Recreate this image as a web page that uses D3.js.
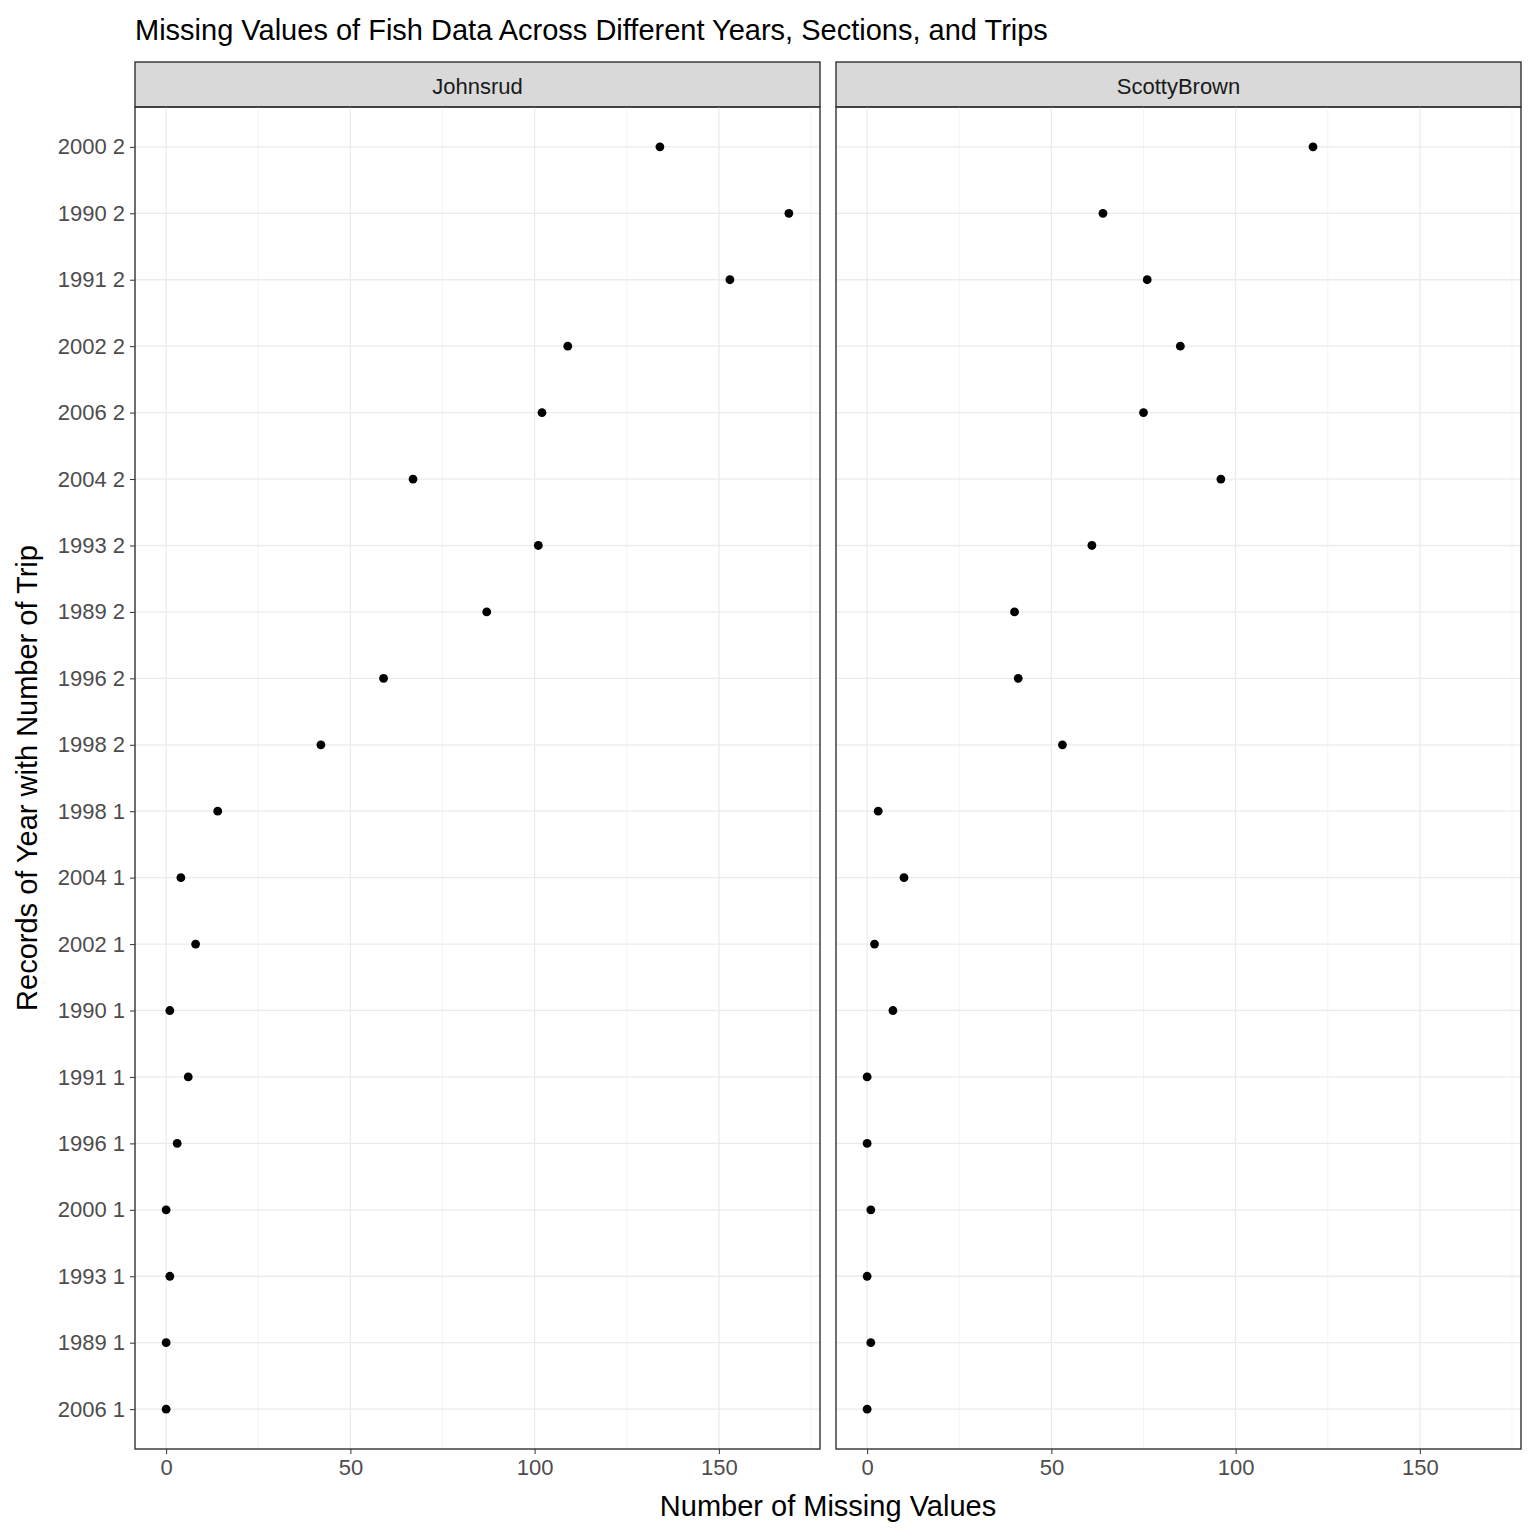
<!DOCTYPE html>
<html>
<head>
<meta charset="utf-8">
<script src="https://cdn.jsdelivr.net/npm/d3@7"></script>
<style>
  body { margin: 0; background: #fff; }
  text { font-family: Arial, "Liberation Sans", sans-serif; }
</style>
</head>
<body>
<svg id="chart" width="1536" height="1536"></svg>
<script>
// categories, top to bottom
var records = ["2000 2", "1990 2", "1991 2", "2002 2", "2006 2", "2004 2", "1993 2", "1989 2", "1996 2", "1998 2",
               "1998 1", "2004 1", "2002 1", "1990 1", "1991 1", "1996 1", "2000 1", "1993 1", "1989 1", "2006 1"];
var sections = ["Johnsrud", "ScottyBrown"];
var johnsrud = [134, 169, 153, 109, 102, 67, 101, 87, 59, 42, 14, 4, 8, 1, 6, 3, 0, 1, 0, 0];
var scottyBrown = [121, 64, 76, 85, 75, 96, 61, 40, 41, 53, 3, 10, 2, 7, 0, 0, 1, 0, 1, 0];
var xTicks = [0, 50, 100, 150];
var xMinor = [25, 75, 125, 175];

var svg = d3.select("#chart");
var panelTop = 107, panelBottom = 1449;
var panels = [{ x0: 135, x1: 820, values: johnsrud }, { x0: 836, x1: 1521, values: scottyBrown }];

var maxV = d3.max(johnsrud.concat(scottyBrown));
var pad = maxV * 0.05;

// discrete y scale with ggplot-like 0.6 expansion
var y = d3.scalePoint().domain(records).range([panelTop, panelBottom]).padding(0.6);

svg.append("text").attr("x", 135).attr("y", 40).attr("font-size", 29).attr("fill", "#000")
  .text("Missing Values of Fish Data Across Different Years, Sections, and Trips");

panels.forEach(function (p, i) {
  var x = d3.scaleLinear().domain([-pad, maxV + pad]).range([p.x0, p.x1]);
  var g = svg.append("g");

  // strip
  g.append("rect").attr("x", p.x0).attr("y", 62).attr("width", p.x1 - p.x0).attr("height", panelTop - 62)
    .attr("fill", "#d9d9d9").attr("stroke", "#333").attr("stroke-width", 1.4);
  g.append("text").attr("x", (p.x0 + p.x1) / 2).attr("y", 94).attr("text-anchor", "middle")
    .attr("font-size", 22).attr("fill", "#1a1a1a").text(sections[i]);

  // grid
  g.selectAll(".minor").data(xMinor.filter(function (d) { return x(d) < p.x1; })).join("line")
    .attr("x1", function (d) { return x(d); }).attr("x2", function (d) { return x(d); })
    .attr("y1", panelTop).attr("y2", panelBottom).attr("stroke", "#f2f2f2").attr("stroke-width", 0.8);
  g.selectAll(".major").data(xTicks).join("line")
    .attr("x1", function (d) { return x(d); }).attr("x2", function (d) { return x(d); })
    .attr("y1", panelTop).attr("y2", panelBottom).attr("stroke", "#ebebeb").attr("stroke-width", 1.3);
  g.selectAll(".hgrid").data(records).join("line")
    .attr("x1", p.x0).attr("x2", p.x1)
    .attr("y1", function (d) { return y(d); }).attr("y2", function (d) { return y(d); })
    .attr("stroke", "#ebebeb").attr("stroke-width", 1.3);

  // points
  g.selectAll("circle").data(records).join("circle")
    .attr("cx", function (d, j) { return x(p.values[j]); })
    .attr("cy", function (d) { return y(d); })
    .attr("r", 4.4).attr("fill", "#000");

  // border
  g.append("rect").attr("x", p.x0).attr("y", panelTop).attr("width", p.x1 - p.x0).attr("height", panelBottom - panelTop)
    .attr("fill", "none").attr("stroke", "#333").attr("stroke-width", 1.4);

  // x axis
  var ax = svg.append("g").attr("transform", "translate(0," + panelBottom + ")")
    .call(d3.axisBottom(x).tickValues(xTicks).tickSize(5).tickPadding(5));
  ax.select(".domain").remove();
  ax.selectAll("line").attr("stroke", "#333");
  ax.selectAll("text").attr("font-size", 22).attr("fill", "#4d4d4d");
});

// y axis
var ay = svg.append("g").attr("transform", "translate(135,0)")
  .call(d3.axisLeft(y).tickSize(5).tickPadding(5));
ay.select(".domain").remove();
ay.selectAll("line").attr("stroke", "#333");
ay.selectAll("text").attr("font-size", 22).attr("fill", "#4d4d4d");

svg.append("text").attr("x", (135 + 1521) / 2).attr("y", 1516).attr("text-anchor", "middle")
  .attr("font-size", 29).text("Number of Missing Values");
svg.append("text").attr("transform", "translate(37," + (panelTop + panelBottom) / 2 + ") rotate(-90)")
  .attr("text-anchor", "middle").attr("font-size", 29).text("Records of Year with Number of Trip");
</script>
</body>
</html>
